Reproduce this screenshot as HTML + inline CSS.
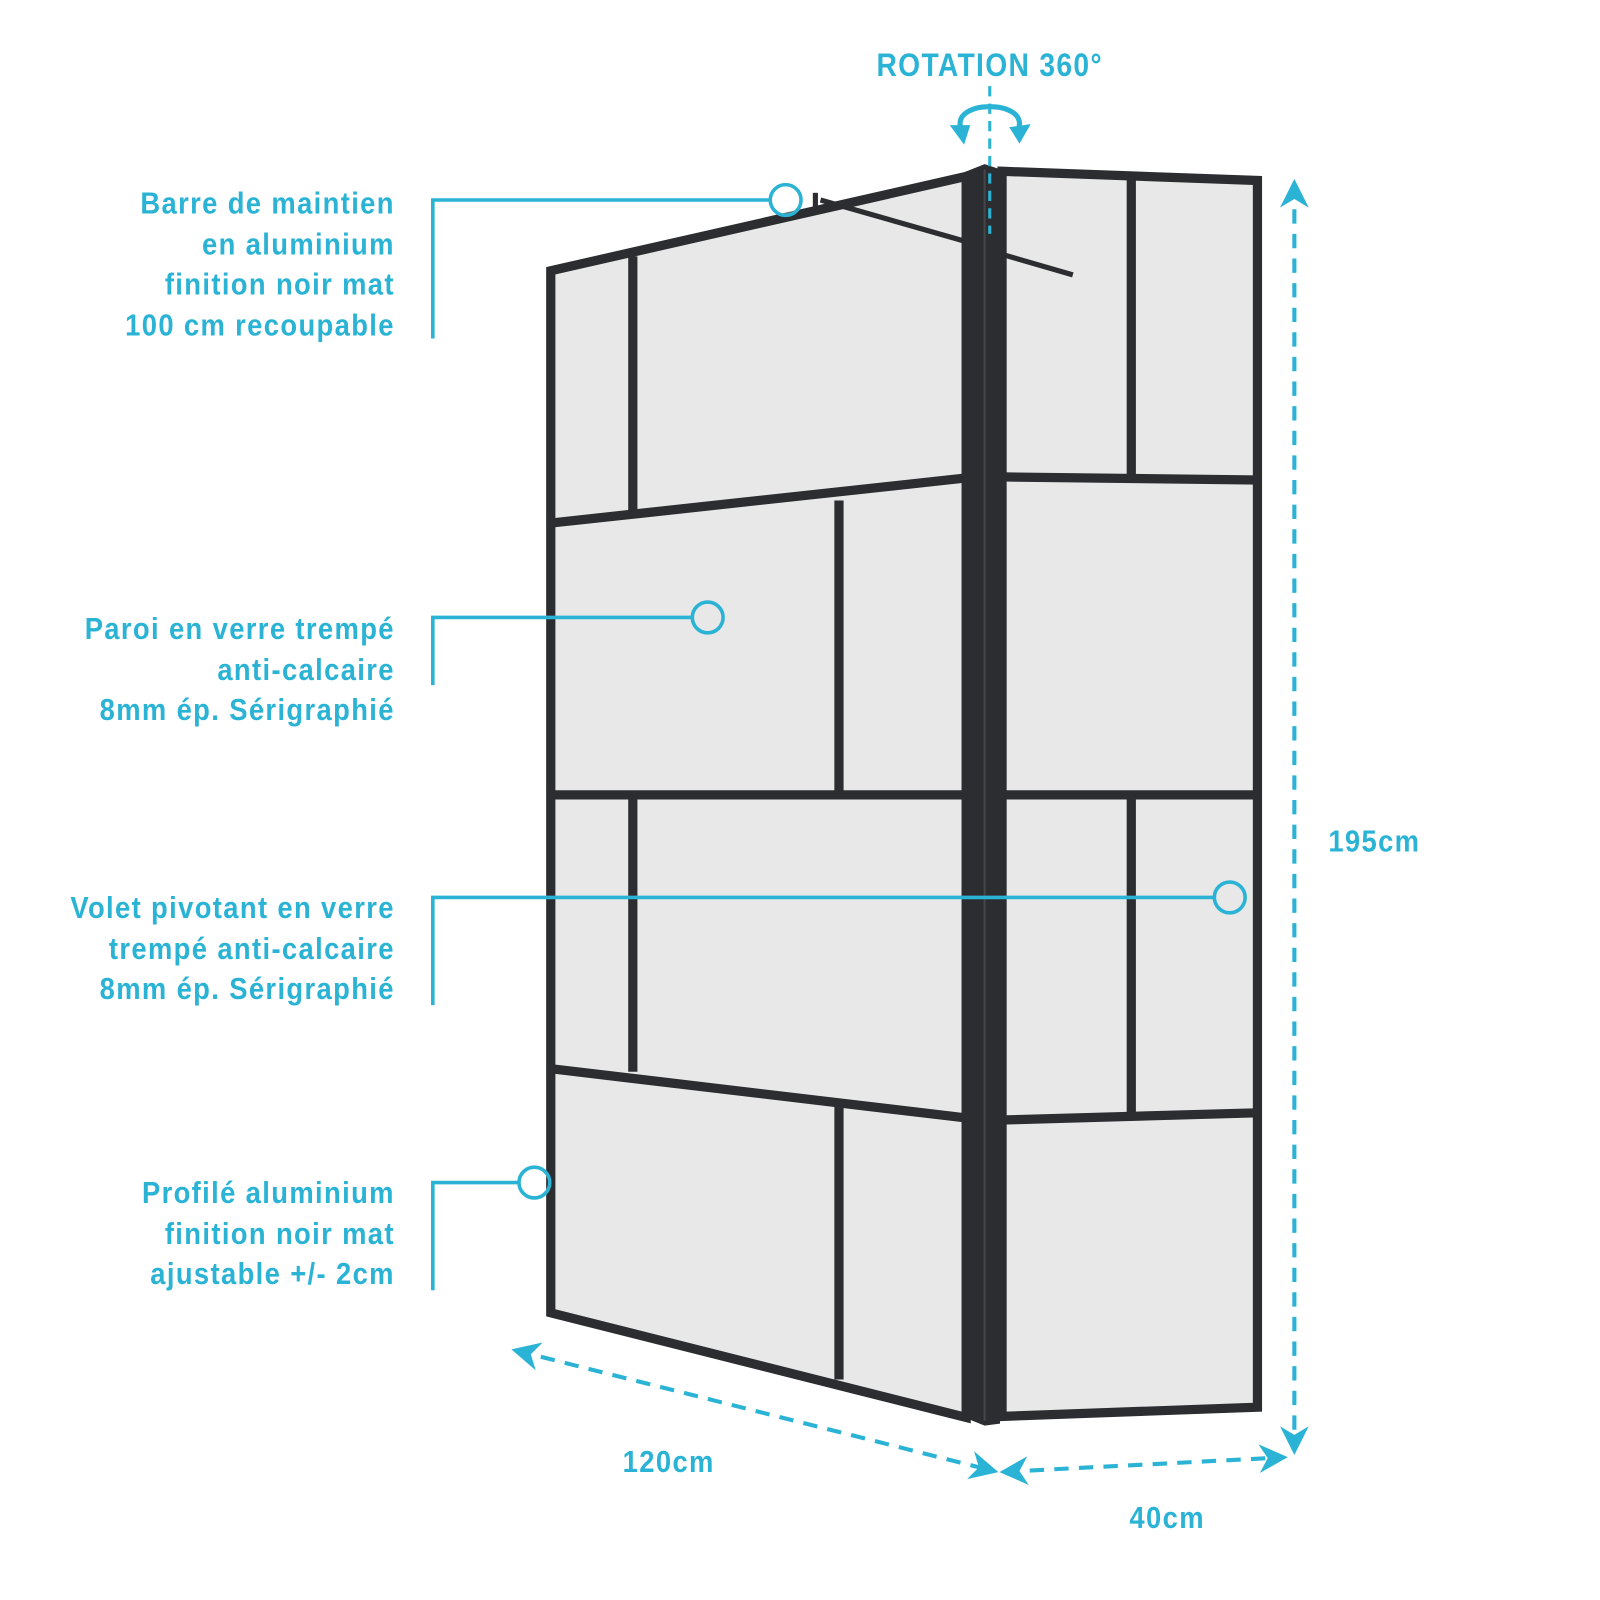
<!DOCTYPE html>
<html><head><meta charset="utf-8"><style>
html,body{margin:0;padding:0;background:#fff;}
svg{display:block}
text{font-family:"Liberation Sans Narrow","Liberation Sans",sans-serif;font-weight:bold;fill:#2bb3d5;font-size:30px;letter-spacing:1.5px}
</style></head><body>
<svg width="1600" height="1600" viewBox="0 0 1560 1560" xmlns="http://www.w3.org/2000/svg">
<defs>
<marker id="ah" viewBox="0 0 10 10" refX="8" refY="5" markerWidth="7" markerHeight="7" orient="auto-start-reverse" markerUnits="strokeWidth">
<path d="M0,0 L10,5 L0,10 L3,5 z" fill="#2bb3d5"/></marker>
</defs>
<polygon points="533,262 945,168 945,1385 533,1282" fill="#e8e8e8"/>
<g stroke="#2c2d31" stroke-width="9" fill="none" stroke-linejoin="miter">
<polygon points="537,264 942,172 942,1382 537,1280"/>
<line x1="617" y1="250" x2="617" y2="500"/>
<line x1="537" y1="510" x2="942" y2="466"/>
<line x1="818" y1="488" x2="818" y2="775"/>
<line x1="537" y1="775" x2="942" y2="775"/>
<line x1="617" y1="775" x2="617" y2="1045"/>
<line x1="537" y1="1042" x2="942" y2="1090"/>
<line x1="818" y1="1078" x2="818" y2="1345"/>
</g>
<polygon points="975,163 1230,173 1230,1375 975,1385" fill="#e8e8e8"/>
<g stroke="#2c2d31" stroke-width="9" fill="none">
<polygon points="977,167 1226,176 1226,1372 977,1381"/>
<line x1="1103" y1="172" x2="1103" y2="466"/>
<line x1="977" y1="465" x2="1226" y2="468"/>
<line x1="977" y1="775" x2="1226" y2="775"/>
<line x1="1103" y1="775" x2="1103" y2="1088"/>
<line x1="977" y1="1092" x2="1226" y2="1085"/>
</g>
<polygon points="940,168 960,160 975,165 975,1388 960,1390 940,1382" fill="#2c2d31"/>
<line x1="960" y1="165" x2="960" y2="1385" stroke="#454649" stroke-width="2"/>
<g stroke="#2c2d31" stroke-width="5" fill="none">
<line x1="800" y1="195" x2="940" y2="235"/>
<line x1="977" y1="248" x2="1046" y2="268"/>
<line x1="795" y1="188" x2="795" y2="208"/>
</g>
<g transform="translate(965,0) scale(0.86,1) translate(-965,0)">
<text x="965" y="74" text-anchor="middle" style="font-size:32px">ROTATION 360°</text>
</g>
<line x1="965" y1="84" x2="965" y2="228" stroke="#2bb3d5" stroke-width="3" stroke-dasharray="10,7"/>
<path d="M938,128 C922,96 1008,96 992,128" stroke="#2bb3d5" stroke-width="5" fill="none"/>
<path d="M926,122 L946,122 L940,141 z M984,124 L1005,121 L994,140 z" fill="#2bb3d5"/>
<g stroke="#2bb3d5" stroke-width="4" fill="none" stroke-dasharray="14,10">
<line x1="1262" y1="180" x2="1262" y2="1413" marker-start="url(#ah)" marker-end="url(#ah)"/>
<line x1="504" y1="1317" x2="968" y2="1434" marker-start="url(#ah)" marker-end="url(#ah)"/>
<line x1="980" y1="1435" x2="1250" y2="1421" marker-start="url(#ah)" marker-end="url(#ah)"/>
</g>
<g transform="translate(1340,0) scale(0.89,1) translate(-1340,0)"><text x="1340" y="830" text-anchor="middle">195cm</text></g>
<g transform="translate(652,0) scale(0.89,1) translate(-652,0)"><text x="652" y="1435" text-anchor="middle">120cm</text></g>
<g transform="translate(1138,0) scale(0.89,1) translate(-1138,0)"><text x="1138" y="1490" text-anchor="middle">40cm</text></g>
<g stroke="#2bb3d5" stroke-width="3.5" fill="none">
<polyline points="422,330 422,195 751,195"/>
<circle cx="766" cy="195" r="15" fill="#fff" fill-opacity="0.3"/>
<polyline points="422,668 422,602 675,602"/>
<circle cx="690" cy="602" r="15"/>
<polyline points="422,980 422,875 1184,875"/>
<circle cx="1199" cy="875" r="15"/>
<polyline points="422,1258 422,1153 506,1153"/>
<circle cx="521" cy="1153" r="15"/>
</g>
<g text-anchor="end" transform="translate(385,0) scale(0.89,1) translate(-385,0)">
<text x="385" y="208">Barre de maintien</text>
<text x="385" y="248">en aluminium</text>
<text x="385" y="287">finition noir mat</text>
<text x="385" y="327">100 cm recoupable</text>
<text x="385" y="623">Paroi en verre trempé</text>
<text x="385" y="663">anti-calcaire</text>
<text x="385" y="702">8mm ép. Sérigraphié</text>
<text x="385" y="895">Volet pivotant en verre</text>
<text x="385" y="935">trempé anti-calcaire</text>
<text x="385" y="974">8mm ép. Sérigraphié</text>
<text x="385" y="1173">Profilé aluminium</text>
<text x="385" y="1213">finition noir mat</text>
<text x="385" y="1252">ajustable +/- 2cm</text>
</g>
</svg>
</body></html>
